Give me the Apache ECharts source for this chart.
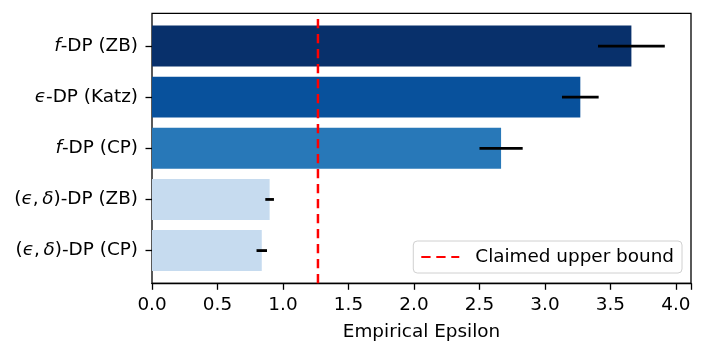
<!DOCTYPE html>
<html>
<head>
<meta charset="utf-8">
<script src="https://cdn.jsdelivr.net/npm/echarts@6/dist/echarts.min.js"></script>
<style>html,body{margin:0;padding:0;background:#fff;}#c{width:705px;height:354px;}</style>
</head>
<body>
<div id="c"></div>
<script>
// ---- data ----
const categories = ['f-DP (ZB)', 'ε-DP (Katz)', 'f-DP (CP)', '(ε,\u2009δ)-DP (ZB)', '(ε,\u2009δ)-DP (CP)'];
const values = [3.66, 3.27, 2.665, 0.898, 0.838];
const errors = [0.255, 0.14, 0.165, 0.033, 0.04];
const claimedBound = 1.267;
const xTicks = [0, 0.5, 1.0, 1.5, 2.0, 2.5, 3.0, 3.5, 4.0];
const boundLabel = 'Claimed upper bound';
const xTitle = 'Empirical Epsilon';

// ---- styles ----
const barColors = ['#08306b', '#08519c', '#2878b8', '#c6dbef'];
const barColorIdx = [0, 1, 2, 3, 3];
const FONT = 'DejaVu Sans';
const FS = 18.4;

function richLabel(s) {
  return s.replace(/^f/, '{i|f}').replace(/ε/g, '{i|ϵ}').replace(/δ/g, '{i|δ}');
}

const L = 152, R = 14, T = 13.3, H = 270;
const band = H / 5.28;          // matplotlib: 4.8 units + 5% margins each side
const innerTop = T + 0.14 * band;
const innerH = 5 * band;

const chart = echarts.init(document.getElementById('c'), null, {renderer: 'canvas'});
chart.setOption({
  animation: false,
  backgroundColor: '#fff',
  textStyle: {fontFamily: FONT},
  grid: [
    {left: L, right: R, top: T, height: H, show: true, borderColor: '#000', borderWidth: 1.3, backgroundColor: 'transparent'},
    {left: L, right: R, top: innerTop, height: innerH}
  ],
  xAxis: [
    {
      type: 'value', gridIndex: 0, min: 0, max: 4.115, interval: 0.5,
      axisLine: {show: true, onZero: false, lineStyle: {color: '#000', width: 1.3}},
      axisTick: {show: true, length: 6.5, lineStyle: {color: '#000', width: 1.3}},
      splitLine: {show: false},
      axisLabel: {
        color: '#000', fontSize: FS, fontFamily: FONT, margin: 13,
        formatter: v => xTicks.some(t => Math.abs(t - v) < 1e-9) ? v.toFixed(1) : ''
      },
      name: xTitle, nameLocation: 'middle', nameGap: 40,
      nameTextStyle: {color: '#000', fontSize: FS, fontFamily: FONT}
    },
    {
      type: 'value', gridIndex: 1, min: 0, max: 4.115, show: false
    }
  ],
  yAxis: [
    {type: 'value', gridIndex: 0, min: -0.64, max: 4.64, show: false},
    {
      type: 'category', gridIndex: 1, data: categories, inverse: true,
      axisLine: {show: false},
      axisTick: {show: true, alignWithLabel: true, length: 6.5, lineStyle: {color: '#000', width: 1.3}},
      axisLabel: {
        color: '#000', fontSize: FS, fontFamily: FONT, margin: 14,
        formatter: v => richLabel(v),
        rich: {i: {fontStyle: 'italic', fontSize: FS, fontFamily: FONT, color: '#000'}}
      }
    }
  ],
  legend: {
    data: [boundLabel],
    right: 23, top: 241,
    orient: 'vertical',
    padding: [7, 8, 7, 7],
    itemWidth: 38, itemHeight: 14,
    backgroundColor: '#fff',
    borderColor: '#d0d0d0', borderWidth: 1, borderRadius: 4,
    itemStyle: {color: 'rgba(0,0,0,0)', borderWidth: 0},
    textStyle: {color: '#000', fontSize: FS, fontFamily: FONT, padding: [0, 0, 0, 11]}
  },
  series: [
    {
      type: 'bar', xAxisIndex: 1, yAxisIndex: 1, barWidth: '80%',
      data: values.map((v, i) => ({value: v, itemStyle: {color: barColors[barColorIdx[i]]}})),
      z: 2
    },
    {
      type: 'custom', xAxisIndex: 1, yAxisIndex: 1,
      data: values.map((v, i) => [v - errors[i], v + errors[i], i]),
      encode: {x: [0, 1], y: 2},
      renderItem: function (params, api) {
        const p1 = api.coord([api.value(0), api.value(2)]);
        const p2 = api.coord([api.value(1), api.value(2)]);
        return {
          type: 'line',
          shape: {x1: p1[0], y1: p1[1], x2: p2[0], y2: p2[1]},
          style: {stroke: '#000', lineWidth: 2.8}
        };
      },
      z: 3
    },
    {
      name: boundLabel, type: 'line', xAxisIndex: 0, yAxisIndex: 0,
      data: [[claimedBound, -0.64], [claimedBound, 4.64]],
      symbol: 'none',
      lineStyle: {color: '#ff0000', width: 2.5, type: [9.3, 5.7]},
      itemStyle: {color: '#ff0000'},
      z: 5
    }
  ]
});
</script>
</body>
</html>
